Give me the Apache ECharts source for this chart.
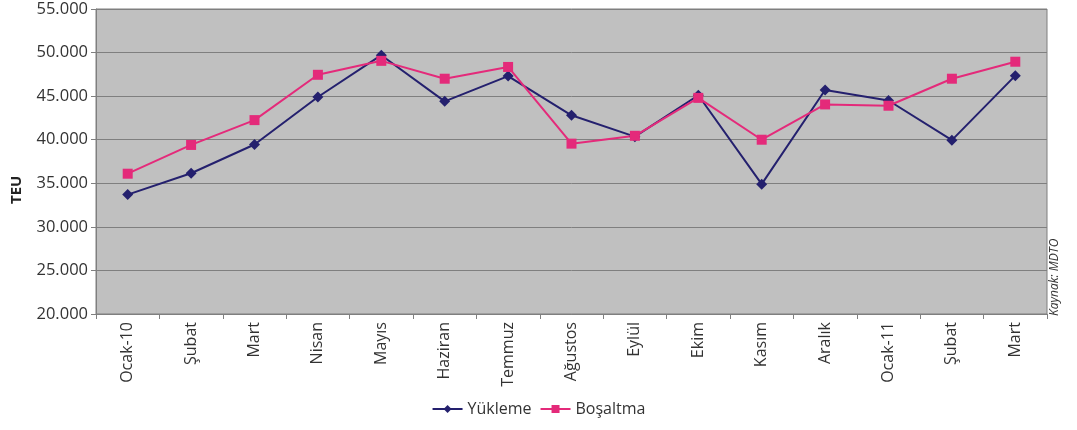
<!DOCTYPE html>
<html>
<head>
<meta charset="utf-8">
<script src="https://cdn.jsdelivr.net/npm/echarts@6/dist/echarts.min.js"></script>
<style>
  html, body { margin: 0; padding: 0; background: #fff; }
  #chart { width: 1077px; height: 430px; }
</style>
</head>
<body>
<div id="chart"></div>
<script>
// aylar
const months = ['Ocak-10', 'Şubat', 'Mart', 'Nisan', 'Mayıs', 'Haziran', 'Temmuz', 'Ağustos',
  'Eylül', 'Ekim', 'Kasım', 'Aralık', 'Ocak-11', 'Şubat', 'Mart']
// TEU değerleri
const yukleme = [33700, 36150, 39450, 44900, 49700, 44400, 47300, 42800, 40350, 45100, 34900, 45700, 44500, 39950, 47350]
const bosaltma = [36100, 39400, 42250, 47450, 49050, 47000, 48350, 39550, 40450, 44800, 40000, 44050, 43900, 47000, 48950]

const font = '"Open Sans", "Noto Sans", sans-serif'

// 55000 -> 55.000
const fmt = (v) => String(v).replace(/\B(?=(\d{3})+(?!\d))/g, '.')

const chart = echarts.init(document.getElementById('chart'))

const option = {
  animation: false,
  textStyle: { fontFamily: font },
  grid: {
    left: 96,
    right: 30,
    top: 9,
    bottom: 116,
    show: true,
    backgroundColor: '#c0c0c0',
    borderColor: '#7f7f7f',
    borderWidth: 1
  },
  legend: {
    bottom: 8,
    left: 'center',
    itemWidth: 30,
    itemHeight: 10,
    itemGap: 8,
    textStyle: { fontSize: 16, color: '#333', fontFamily: font },
    data: ['Yükleme', 'Boşaltma']
  },
  xAxis: {
    type: 'category',
    data: months,
    boundaryGap: true,
    axisLine: { lineStyle: { color: '#7f7f7f', width: 1 } },
    axisTick: { show: true, length: 5, lineStyle: { color: '#7f7f7f' } },
    axisLabel: {
      rotate: 90,
      interval: 0,
      margin: 8,
      fontSize: 16,
      color: '#333',
      fontFamily: font
    }
  },
  yAxis: {
    type: 'value',
    min: 20000,
    max: 55000,
    interval: 5000,
    axisLine: { show: true, lineStyle: { color: '#7f7f7f' } },
    axisTick: { show: true, length: 5, lineStyle: { color: '#7f7f7f' } },
    splitLine: { lineStyle: { color: '#7f7f7f', width: 1 } },
    axisLabel: {
      fontSize: 16.5,
      color: '#333',
      margin: 8,
      fontFamily: font,
      formatter: fmt
    }
  },
  graphic: [
    {
      type: 'text',
      x: 9,
      y: 204,
      rotation: Math.PI / 2,
      style: {
        text: 'TEU',
        fontSize: 15,
        fontWeight: 'bold',
        fill: '#222',
        fontFamily: font
      }
    },
    {
      type: 'text',
      x: 1049,
      y: 316,
      rotation: Math.PI / 2,
      style: {
        text: 'Kaynak: MDTO',
        fontSize: 12,
        fontStyle: 'italic',
        fill: '#333',
        fontFamily: font
      }
    }
  ],
  series: [
    {
      name: 'Yükleme',
      type: 'line',
      data: yukleme,
      symbol: 'diamond',
      symbolSize: 11,
      color: '#24206e',
      lineStyle: { width: 2, color: '#24206e' },
      itemStyle: { color: '#24206e' }
    },
    {
      name: 'Boşaltma',
      type: 'line',
      data: bosaltma,
      symbol: 'rect',
      symbolSize: 10,
      color: '#e42a7a',
      lineStyle: { width: 2, color: '#e42a7a' },
      itemStyle: { color: '#e42a7a' }
    }
  ]
}

chart.setOption(option)
</script>
</body>
</html>
